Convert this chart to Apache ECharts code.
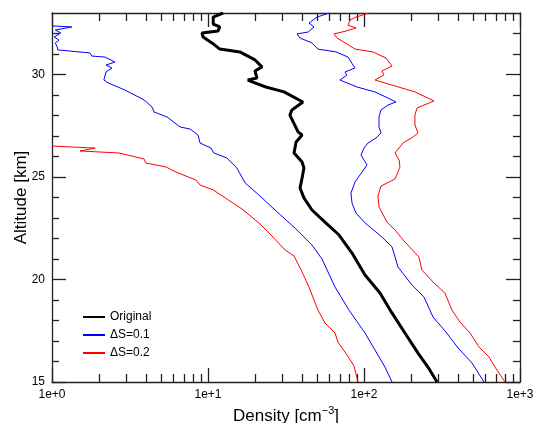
<!DOCTYPE html>
<html>
<head>
<meta charset="utf-8">
<script src="https://cdn.jsdelivr.net/npm/echarts@6/dist/echarts.min.js"></script>
<style>
  html, body { margin: 0; padding: 0; background: #fff; }
  #chart { width: 533px; height: 423px; }
</style>
</head>
<body>
<div id="chart"></div>
<script>
// altitude [km] / density [cm^-3] profiles
var origAlt = [33.0, 32.9, 32.8, 32.46, 32.32, 32.12, 32.02, 31.83, 31.54, 31.24, 31.1, 30.71, 30.37, 30.17, 29.83, 29.73, 29.63, 29.39, 29.15, 28.66, 28.27, 28.02, 27.2, 27.05, 26.71, 26.17, 25.73, 25.44, 24.95, 24.46, 23.98, 23.39, 22.8, 22.17, 21.29, 20.22, 19.34, 18.37, 17.39, 16.41, 15.73, 15.0];
var origDen = [12.5, 11.6, 10.8, 10.8, 11.9, 11.6, 9.15, 9.3, 10.6, 11.9, 16.0, 20.0, 22.2, 20.0, 20.6, 18.0, 19.4, 23.5, 30.7, 40.6, 34.5, 33.5, 37.8, 40.1, 36.7, 35.6, 40.1, 41.2, 40.1, 38.9, 41.2, 46.4, 56.2, 69.2, 83.8, 101.5, 126.6, 151, 183, 222, 257, 294];

var blueLoAlt = [32.37, 32.32, 32.17, 32.02, 31.83, 31.68, 31.54, 31.34, 31.2, 31.05, 30.9, 30.85, 30.61, 30.46, 30.32, 30.12, 29.73, 29.59, 29.24, 28.76, 28.41, 28.17, 27.93, 27.44, 27.34, 27.05, 26.66, 26.41, 26.17, 25.93, 25.44, 24.71, 24.12, 23.39, 22.51, 21.68, 21.0, 19.63, 18.51, 17.39, 16.56, 15.73, 15.0];
var blueLoDen = [1.0, 1.34, 1.05, 1.14, 1.03, 1.11, 1.05, 1.08, 1.09, 1.75, 1.8, 2.19, 2.53, 2.22, 2.42, 2.22, 2.15, 2.29, 2.94, 3.89, 4.38, 4.51, 5.46, 6.62, 7.67, 8.63, 8.89, 10.45, 10.9, 13.2, 15.3, 17.3, 21.2, 26.9, 36.1, 46.4, 53.8, 65.2, 80.1, 101.5, 117.6, 136.3, 151.2];

var blueHiAlt = [33.0, 32.8, 32.51, 32.32, 32.07, 31.98, 31.78, 31.54, 31.24, 31.1, 30.85, 30.46, 30.32, 30.12, 29.98, 29.73, 29.39, 29.15, 28.85, 28.66, 28.51, 28.27, 27.93, 27.44, 27.15, 26.9, 26.66, 26.41, 26.07, 25.59, 25.24, 24.76, 24.22, 23.73, 23.24, 22.76, 22.07, 21.59, 20.61, 19.73, 19.15, 18.17, 17.44, 16.66, 15.93, 15.0];
var blueHiDen = [59.7, 50.0, 44.4, 47.8, 43.8, 37.2, 38.9, 46.4, 50.7, 66.2, 79.0, 85.0, 87.6, 75.5, 77.8, 70.2, 90.2, 117.6, 142.5, 160.4, 142.5, 128.5, 124.8, 124.8, 128.5, 119.4, 106.1, 100, 95.7, 104.5, 97.1, 87.6, 82.5, 83.8, 88.9, 101.5, 130.4, 151.2, 165.2, 203, 242, 277, 335, 401, 492, 588];

var redLoAlt = [26.51, 26.41, 26.27, 26.17, 25.88, 25.68, 25.49, 25.24, 24.85, 24.61, 24.37, 23.98, 23.44, 22.76, 22.22, 21.44, 21.15, 20.37, 19.63, 18.51, 17.88, 17.39, 16.95, 16.32, 15.78, 15.0];
var redLoDen = [1.0, 1.89, 1.51, 2.69, 3.89, 4.0, 5.38, 6.24, 8.38, 8.89, 10.8, 12.9, 16.5, 21.2, 25.0, 31.2, 35.6, 40.1, 44.4, 50.7, 56.2, 65.2, 68.1, 77.8, 86.3, 91.5];

var redHiAlt = [33.0, 32.8, 32.66, 32.41, 32.27, 32.12, 31.98, 31.78, 31.49, 31.24, 31.1, 30.8, 30.41, 30.17, 29.98, 29.73, 29.44, 29.15, 28.71, 28.37, 28.02, 27.54, 27.15, 26.95, 26.66, 26.17, 25.83, 25.49, 24.9, 24.56, 24.07, 23.54, 22.8, 22.41, 21.83, 21.1, 20.46, 19.83, 19.34, 18.51, 17.93, 17.39, 16.71, 16.22, 15.73, 15.0];
var redHiDen = [107.7, 88.9, 81.3, 79.0, 88.9, 76.7, 64.2, 67.1, 77.8, 87.6, 114.2, 138.4, 151.2, 130.4, 134.3, 117.6, 158, 212, 281, 219, 212, 212, 222, 206, 178, 158, 168, 170, 158, 128.5, 122.9, 124.8, 140.4, 158, 183, 225, 235, 281, 330, 366, 412, 478, 546, 633, 691, 801];

var xMajor = [1, 10, 100, 1000];
var xMinor = [2, 3, 4, 5, 6, 7, 8, 9, 20, 30, 40, 50, 60, 70, 80, 90, 200, 300, 400, 500, 600, 700, 800, 900];
var yMajor = [15, 20, 25, 30];
var yMinor = [16, 17, 18, 19, 21, 22, 23, 24, 26, 27, 28, 29, 31, 32];

function pairs(den, alt) {
  return den.map(function (d, i) { return [d, alt[i]]; });
}

var FONT = "'Liberation Sans', Arial, Helvetica, sans-serif";
var lineColor = "#222";

function xAx(pos, ticks, len, withLabels, withLine) {
  return {
    type: "log",
    logBase: 10,
    min: 1,
    max: 1000,
    position: pos,
    axisLine: { show: withLine, lineStyle: { color: lineColor, width: 1.3 } },
    axisTick: { show: true, inside: true, length: len, customValues: ticks, lineStyle: { color: lineColor, width: 1.3 } },
    axisLabel: withLabels ? {
      show: true, customValues: xMajor, margin: 7, color: "#000", fontSize: 12, fontFamily: FONT,
      formatter: function (v) { return "1e+" + Math.round(Math.log10(v)); }
    } : { show: false },
    splitLine: { show: false },
  };
}

function yAx(pos, ticks, len, withLabels, withLine) {
  return {
    type: "value",
    min: 15,
    max: 33,
    interval: 5,
    position: pos,
    axisLine: { show: withLine, lineStyle: { color: lineColor, width: 1.3 } },
    axisTick: { show: true, inside: true, length: len, customValues: ticks, lineStyle: { color: lineColor, width: 1.3 } },
    axisLabel: withLabels ? { show: true, customValues: yMajor, margin: 7, color: "#000", fontSize: 12, fontFamily: FONT } : { show: false },
    splitLine: { show: false },
  };
}

var chart = echarts.init(document.getElementById("chart"), null, { renderer: "canvas" });

var xMain = xAx("bottom", xMajor, 14, true, true);
xMain.name = "{t|Density [cm}{s|−3}{t|]}";
xMain.nameLocation = "middle";
xMain.nameGap = 22;
xMain.nameTextStyle = {
  rich: {
    t: { fontSize: 17, fontFamily: FONT, color: "#000", lineHeight: 20 },
    s: { fontSize: 11, fontFamily: FONT, color: "#000", verticalAlign: "top", lineHeight: 12 },
  },
};

var yMain = yAx("left", yMajor, 14, true, true);
yMain.name = "Altitude [km]";
yMain.nameLocation = "middle";
yMain.nameGap = 22;
yMain.nameMoveOverlap = false;
yMain.nameTextStyle = { fontSize: 17, fontFamily: FONT, color: "#000" };

var option = {
  animation: false,
  backgroundColor: "#fff",
  grid: { left: 52, right: 13, top: 13, bottom: 41, containLabel: false, outerBoundsMode: "none" },
  legend: {
    data: ["Original", "ΔS=0.1", "ΔS=0.2"],
    orient: "vertical",
    left: 77,
    top: 306,
    itemWidth: 22,
    itemHeight: 12,
    itemGap: 6,
    itemStyle: { opacity: 0 },
    textStyle: { fontSize: 12, fontFamily: FONT, color: "#000" },
  },
  xAxis: [
    xMain,
    xAx("bottom", xMinor, 8, false, false),
    xAx("top", xMajor, 14, false, true),
    xAx("top", xMinor, 8, false, false),
  ],
  yAxis: [
    yMain,
    yAx("left", yMinor, 7, false, false),
    yAx("right", yMajor, 14, false, true),
    yAx("right", yMinor, 7, false, false),
  ],
  series: [
    { name: "ΔS=0.2", type: "line", symbol: "none", data: pairs(redLoDen, redLoAlt), lineStyle: { color: "#ff0000", width: 1 }, itemStyle: { color: "#ff0000" } },
    { name: "ΔS=0.2", type: "line", symbol: "none", data: pairs(redHiDen, redHiAlt), lineStyle: { color: "#ff0000", width: 1 }, itemStyle: { color: "#ff0000" } },
    { name: "ΔS=0.1", type: "line", symbol: "none", data: pairs(blueLoDen, blueLoAlt), lineStyle: { color: "#0000ff", width: 1 }, itemStyle: { color: "#0000ff" } },
    { name: "ΔS=0.1", type: "line", symbol: "none", data: pairs(blueHiDen, blueHiAlt), lineStyle: { color: "#0000ff", width: 1 }, itemStyle: { color: "#0000ff" } },
    { name: "Original", type: "line", symbol: "none", data: pairs(origDen, origAlt), lineStyle: { color: "#000", width: 3 }, itemStyle: { color: "#000" } },
  ],
};

chart.setOption(option);
window.addEventListener("resize", chart.resize);
</script>
</body>
</html>
